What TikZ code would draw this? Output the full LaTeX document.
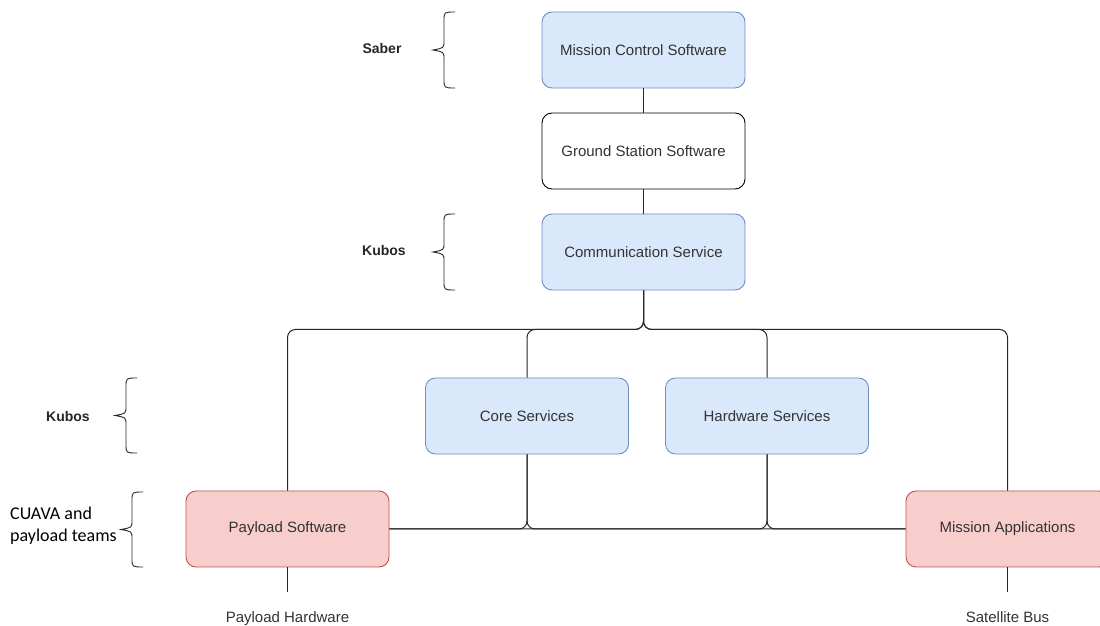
\documentclass[tikz,border=0pt]{standalone}
\usepackage{fontspec}
\setmainfont{Liberation Sans}
\newfontfamily\calibrifont{Carlito}
\definecolor{blueFill}{HTML}{DAE8FC}
\definecolor{blueLine}{HTML}{6C8EBF}
\definecolor{redFill}{HTML}{F8CECC}
\definecolor{redLine}{HTML}{B85450}
\definecolor{txtGray}{HTML}{333333}
\begin{document}
\begin{tikzpicture}[x=1pt,y=1pt,
  box/.style={rectangle,rounded corners=10pt,minimum width=203pt,minimum height=76pt,
    line width=0.9pt,text=txtGray,font=\fontsize{15}{18}\selectfont},
  bluebox/.style={box,draw=blueLine,fill=blueFill},
  plainbox/.style={box,draw=black,fill=white},
  redbox/.style={box,draw=redLine,fill=redFill},
  wire/.style={line width=1pt,draw=black!85,rounded corners=8pt},
  lbl/.style={text=txtGray,font=\fontsize{15}{18}\selectfont},
  team/.style={text=black!85,font=\bfseries\fontsize{14}{17}\selectfont},
  curly/.style={line width=0.9pt,draw=black!85}]

  \useasboundingbox (0,0) rectangle (1100,626);

  \node[bluebox] (mcs) at (643.5,576) {Mission Control Software};
  \node[plainbox] (gss) at (643.5,475) {Ground Station Software};
  \node[bluebox] (comm) at (643.5,374) {Communication Service};
  \node[bluebox] (core) at (527,210) {Core Services};
  \node[bluebox] (hws) at (767,210) {Hardware Services};
  \node[redbox] (pay) at (287.5,97) {Payload Software};
  \node[redbox] (app) at (1007.5,97) {Mission Applications};

  \node[lbl,anchor=north,inner ysep=19pt] (phw) at (287.5,34) {Payload Hardware};
  \node[lbl,anchor=north,inner ysep=19pt] (bus) at (1007.5,34) {Satellite Bus};

  \draw[wire] (mcs) -- (gss);
  \draw[wire] (gss) -- (comm);
  \draw[wire] (comm.south) -- ++(0,-39) -| (pay.north);
  \draw[wire] (comm.south) -- ++(0,-39) -| (core.north);
  \draw[wire] (comm.south) -- ++(0,-39) -| (hws.north);
  \draw[wire] (comm.south) -- ++(0,-39) -| (app.north);
  \draw[wire] (core.south) |- (pay.east);
  \draw[wire] (core.south) |- (app.west);
  \draw[wire] (hws.south) |- (pay.east);
  \draw[wire] (hws.south) |- (app.west);
  \draw[wire] (pay.south) -- (phw.north);
  \draw[wire] (app.south) -- (bus.north);

  \foreach \xb/\yb/\yt in {455/538/614, 455/336/412, 137/173/248, 143/59/134}
    \draw[curly] (\xb,\yt) .. controls (\xb-11,\yt) .. (\xb-11,\yt-9)
      -- (\xb-11,{(\yb+\yt)/2+9}) .. controls (\xb-11,{(\yb+\yt)/2+2}) .. (\xb-22,{(\yb+\yt)/2})
      .. controls (\xb-11,{(\yb+\yt)/2-2}) .. (\xb-11,{(\yb+\yt)/2-9})
      -- (\xb-11,\yb+9) .. controls (\xb-11,\yb) .. (\xb,\yb);

  \node[team] (saber) at (382,577) {Saber};
  \node[team] (kubos1) at (384,375) {Kubos};
  \node[team] (kubos2) at (68,210) {Kubos};
  \node[anchor=west,align=left,inner sep=0pt,text=black,
    font=\calibrifont\fontsize{18}{22}\selectfont] (cuava) at (10,100) {CUAVA and\\payload teams};
\end{tikzpicture}
\end{document}
